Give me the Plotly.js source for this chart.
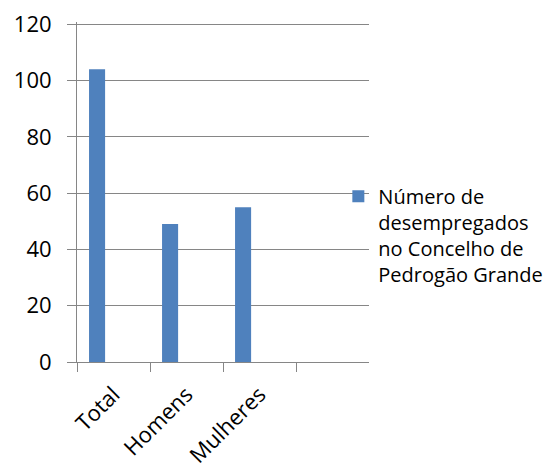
<!DOCTYPE html>
<html>
<head>
<meta charset="utf-8">
<script src="https://cdn.plot.ly/plotly-3.0.1.min.js"></script>
<style>html,body{margin:0;padding:0;background:#fff;}#chart{width:549px;height:465px;}</style>
</head>
<body>
<div id="chart"></div>
<script>
const categories = ["Total", "Homens", "Mulheres"];
const values = [104, 49, 55];
const seriesName = "Número de<br>desempregados<br>no Concelho de<br>Pedrogão Grande";
const yTicks = [0, 20, 40, 60, 80, 100, 120];

const font = "Open Sans, Liberation Sans, sans-serif";
const trace = {
  type: "bar",
  x: categories,
  y: values,
  name: seriesName,
  marker: {color: "#4F81BD"},
  width: 0.22,
  offset: -0.335,
  showlegend: true
};
const layout = {
  width: 549, height: 465,
  margin: {l: 77, r: 180, t: 22, b: 103, autoexpand: false},
  paper_bgcolor: "#fff", plot_bgcolor: "#fff",
  font: {family: font, size: 20, color: "#000"},
  showlegend: true,
  xaxis: {
    type: "category",
    range: [-0.5, 3.5],
    tickson: "boundaries",
    ticks: "outside", ticklen: 9, tickcolor: "#868686", tickwidth: 1,
    showline: true, linecolor: "#868686", linewidth: 1,
    showgrid: false, zeroline: false,
    tickangle: -45,
    ticklabelstandoff: 10,
    tickfont: {family: font, size: 22}
  },
  yaxis: {
    range: [0, 120.8],
    tickvals: yTicks,
    ticks: "outside", ticklen: 9, tickcolor: "#868686",
    showline: true, linecolor: "#868686", linewidth: 1,
    showgrid: true, gridcolor: "#868686", gridwidth: 1,
    zeroline: false,
    ticklabelstandoff: 11,
    tickfont: {family: font, size: 22}
  },
  legend: {
    x: 0.895, xanchor: "left",
    y: 0.545, yanchor: "top",
    bgcolor: "rgba(0,0,0,0)",
    valign: "top",
    font: {family: font, size: 20},
    tracegroupgap: 0
  }
};
Plotly.newPlot("chart", [trace], layout, {displayModeBar: false, staticPlot: true});
</script>
</body>
</html>
